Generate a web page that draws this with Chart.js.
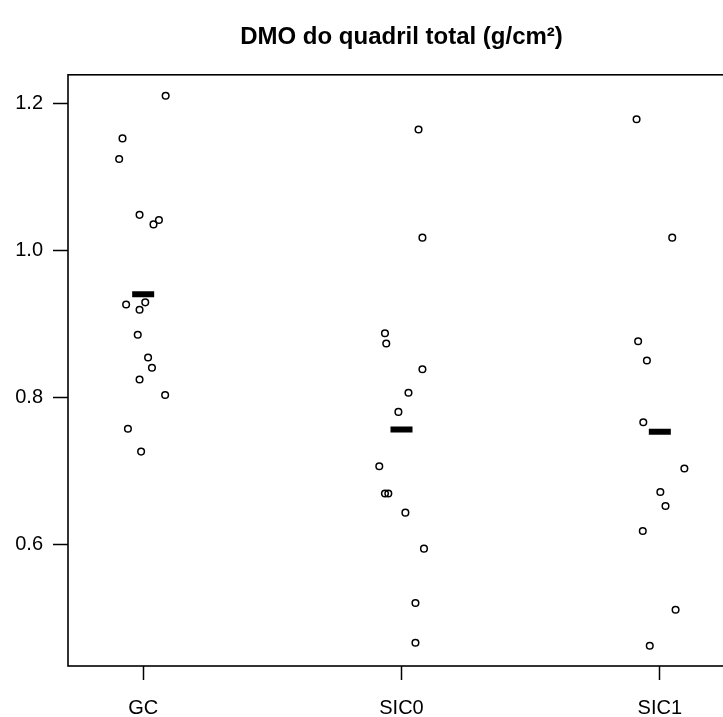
<!DOCTYPE html>
<html>
<head>
<meta charset="utf-8">
<script src="https://cdn.jsdelivr.net/npm/chart.js@4.4.1/dist/chart.umd.min.js"></script>
<style>
  html, body { margin: 0; padding: 0; background: #fff; overflow: hidden; }
  #wrap { width: 752px; height: 717px; }
</style>
</head>
<body>
<div id="wrap"><canvas id="grafico" width="752" height="717"></canvas></div>
<script>
// grupos e valores
const grupos = ['GC', 'SIC0', 'SIC1'];

const gcValores = [1.211, 1.153, 1.125, 1.049, 1.036, 1.042, 0.927, 0.930, 0.920, 0.886, 0.855, 0.841, 0.825, 0.804, 0.758, 0.727];
const gcJitter = [0.087, -0.080, -0.093, -0.014, 0.040, 0.061, -0.066, 0.008, -0.014, -0.021, 0.019, 0.034, -0.014, 0.085, -0.059, -0.008];

const sic0Valores = [1.165, 1.018, 0.888, 0.874, 0.839, 0.807, 0.781, 0.707, 0.670, 0.670, 0.644, 0.595, 0.521, 0.467];
const sic0Jitter = [0.066, 0.081, -0.064, -0.059, 0.081, 0.027, -0.012, -0.086, -0.064, -0.051, 0.015, 0.087, 0.054, 0.054];

const sic1Valores = [1.179, 1.018, 0.877, 0.851, 0.767, 0.704, 0.672, 0.653, 0.619, 0.512, 0.463];
const sic1Jitter = [-0.090, 0.048, -0.084, -0.050, -0.064, 0.095, 0.002, 0.022, -0.066, 0.061, -0.039];

const medias = [0.941, 0.757, 0.754];
const yTicks = [0.6, 0.8, 1.0, 1.2];

const fonte = "'Liberation Sans', Arial, sans-serif";

const pontos = (valores, jitter, pos) => valores.map((v, i) => ({ x: pos + jitter[i], y: v }));

const todosPontos = [
    ...pontos(gcValores, gcJitter, 1),
    ...pontos(sic0Valores, sic0Jitter, 2),
    ...pontos(sic1Valores, sic1Jitter, 3)
];

const pontosMedia = medias.map((m, i) => ({ x: i + 1, y: m }));

// caixa em volta da area do grafico (estilo R)
const caixa = {
    id: 'caixa',
    afterDraw(chart) {
        const a = chart.chartArea;
        const ctx = chart.ctx;
        ctx.save();
        ctx.strokeStyle = '#000';
        ctx.lineWidth = 1.6;
        ctx.strokeRect(a.left, a.top, a.right - a.left, a.bottom - a.top);
        ctx.restore();
    }
};

new Chart(document.getElementById('grafico'), {
    type: 'scatter',
    data: {
        datasets: [{
            label: 'medias',
            data: pontosMedia,
            pointStyle: 'line',
            pointRadius: 11,
            pointHoverRadius: 11,
            borderWidth: 6,
            pointBorderWidth: 6,
            borderColor: '#000',
            backgroundColor: '#000'
        }, {
            label: 'DMO',
            data: todosPontos,
            pointStyle: 'circle',
            pointRadius: 3.3,
            pointHoverRadius: 3.3,
            pointBorderWidth: 1.5,
            borderColor: '#000',
            backgroundColor: 'rgba(0,0,0,0)'
        }]
    },
    options: {
        responsive: false,
        animation: false,
        events: [],
        layout: { padding: { left: 0, right: 7, top: 0, bottom: 0 } },
        plugins: {
            legend: { display: false },
            tooltip: { enabled: false },
            title: {
                display: true,
                fullSize: false,
                text: 'DMO do quadril total (g/cm²)',
                color: '#000',
                font: { family: fonte, size: 24, weight: 'bold' },
                padding: { top: 23, bottom: 23 }
            }
        },
        scales: {
            x: {
                type: 'linear',
                min: 0.709,
                max: 3.291,
                afterBuildTicks: (axis) => { axis.ticks = grupos.map((g, i) => ({ value: i + 1 })); },
                afterFit: (axis) => { axis.height = 51; },
                border: { display: false },
                grid: { drawOnChartArea: false, drawTicks: true, tickLength: 14, tickColor: '#000', tickWidth: 1.5 },
                ticks: {
                    color: '#000',
                    padding: 16,
                    maxRotation: 0,
                    autoSkip: false,
                    font: { family: fonte, size: 20 },
                    callback: (v) => grupos[Math.round(v) - 1]
                }
            },
            y: {
                min: 0.4354,
                max: 1.2395,
                afterBuildTicks: (axis) => { axis.ticks = yTicks.map(v => ({ value: v })); },
                afterFit: (axis) => { axis.width = 68; },
                border: { display: false },
                grid: { drawOnChartArea: false, drawTicks: true, tickLength: 15, tickColor: '#000', tickWidth: 1.5 },
                ticks: {
                    color: '#000',
                    padding: 10,
                    autoSkip: false,
                    font: { family: fonte, size: 20 },
                    callback: (v) => v.toFixed(1)
                }
            }
        }
    },
    plugins: [caixa]
});
</script>
</body>
</html>
